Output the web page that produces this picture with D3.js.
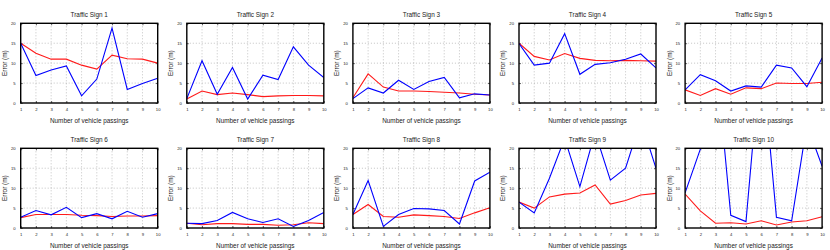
<!DOCTYPE html>
<html>
<head>
<meta charset="utf-8">
<script src="https://cdn.jsdelivr.net/npm/d3@7"></script>
<style>
  body { margin: 0; background: #fff; }
  svg { display: block; font-family: "Liberation Sans", Arial, sans-serif; }
</style>
</head>
<body>
<svg class="chart"></svg>
<script>
const passings = [1, 2, 3, 4, 5, 6, 7, 8, 9, 10];
const yTicks = [0, 5, 10, 15, 20];
const titles = ["Traffic Sign 1", "Traffic Sign 2", "Traffic Sign 3", "Traffic Sign 4", "Traffic Sign 5",
  "Traffic Sign 6", "Traffic Sign 7", "Traffic Sign 8", "Traffic Sign 9", "Traffic Sign 10"];

// blue series (clipped above 20 in signs 9 and 10)
const blueErrors = [
  [15.0, 6.9, 8.3, 9.3, 1.8, 6.0, 18.8, 3.4, 4.9, 6.2],
  [1.1, 10.6, 2.2, 8.9, 1.0, 7.0, 5.9, 14.1, 9.5, 6.4],
  [1.1, 3.8, 2.5, 5.7, 3.4, 5.4, 6.4, 1.3, 2.3, 2.0],
  [14.9, 9.5, 10.0, 17.4, 7.2, 9.7, 10.1, 11.0, 12.3, 8.8],
  [3.3, 7.1, 5.6, 3.0, 4.3, 4.0, 9.5, 8.8, 4.1, 11.3],
  [2.7, 4.4, 3.3, 5.2, 2.6, 3.6, 2.3, 4.2, 2.7, 3.6],
  [1.2, 1.1, 1.9, 3.9, 2.3, 1.4, 2.3, 0.4, 1.9, 3.9],
  [3.4, 11.9, 0.4, 3.4, 4.9, 4.8, 4.4, 1.0, 11.8, 14.0],
  [6.5, 3.8, 12.5, 22.5, 10.4, 24.0, 12.0, 15.0, 27.0, 15.0],
  [8.8, 19.8, 44.0, 3.2, 1.6, 45.0, 2.7, 1.8, 26.0, 15.5]
];

// red series
const redErrors = [
  [15.0, 12.5, 11.0, 11.0, 9.5, 8.5, 12.0, 11.1, 11.0, 10.0],
  [1.0, 3.0, 2.1, 2.5, 2.1, 1.6, 1.8, 1.9, 1.9, 1.8],
  [1.3, 7.3, 4.0, 3.0, 3.0, 2.9, 2.7, 2.5, 2.2, 2.0],
  [15.0, 11.7, 10.8, 12.4, 11.2, 10.7, 10.6, 10.7, 10.6, 10.5],
  [3.3, 1.9, 3.6, 2.2, 3.8, 3.6, 5.0, 4.9, 4.9, 5.2],
  [2.6, 3.4, 3.4, 3.4, 3.2, 3.1, 2.9, 3.0, 3.0, 3.1],
  [1.2, 0.8, 1.1, 1.1, 0.9, 0.9, 0.7, 0.8, 1.3, 1.1],
  [3.4, 5.9, 2.9, 2.7, 3.3, 3.1, 2.9, 2.4, 3.8, 5.1],
  [6.5, 5.0, 7.8, 8.5, 8.8, 10.8, 6.0, 6.9, 8.3, 8.7],
  [8.5, 4.3, 1.2, 1.3, 1.0, 1.8, 0.75, 1.5, 1.8, 2.8]
];

const W = 830, H = 250;
const plotW = 137, plotH = 79.7;
const colStep = 166.1, rowStep = 125;
const left0 = 20.7, top0 = 23.3;

const svg = d3.select(".chart")
  .attr("width", W)
  .attr("height", H);

const x = d3.scaleLinear().domain([1, 10]).range([0, plotW]);
const y = d3.scaleLinear().domain([0, 20]).range([plotH, 0]);

const line = d3.line()
  .x((v, i) => x(passings[i]))
  .y(v => y(v));

titles.forEach((title, k) => {
  const col = k % 5, row = Math.floor(k / 5);
  const g = svg.append("g")
    .attr("transform", `translate(${left0 + col * colStep},${top0 + row * rowStep})`);

  g.append("clipPath").attr("id", "clip" + k)
    .append("rect").attr("width", plotW).attr("height", plotH);

  // dotted grid
  g.selectAll(".gx").data(passings.slice(1, -1)).enter().append("line")
    .attr("x1", d => x(d)).attr("x2", d => x(d))
    .attr("y1", 0).attr("y2", plotH)
    .attr("stroke", "#9a9a9a").attr("stroke-width", 0.6)
    .attr("stroke-dasharray", "1,2");
  g.selectAll(".gy").data(yTicks.slice(1, -1)).enter().append("line")
    .attr("y1", d => y(d)).attr("y2", d => y(d))
    .attr("x1", 0).attr("x2", plotW)
    .attr("stroke", "#9a9a9a").attr("stroke-width", 0.6)
    .attr("stroke-dasharray", "1,2");

  // axes with inward ticks on all four sides
  const axes = [
    [d3.axisBottom(x).tickValues(passings).tickSize(-2).tickPadding(5), `translate(0,${plotH})`, true],
    [d3.axisTop(x).tickValues(passings).tickSize(-2), "", false],
    [d3.axisLeft(y).tickValues(yTicks).tickSize(-2).tickPadding(5), "", true],
    [d3.axisRight(y).tickValues(yTicks).tickSize(-2), `translate(${plotW},0)`, false]
  ];
  axes.forEach(([ax, tr, labels]) => {
    const a = g.append("g").attr("transform", tr).call(ax);
    a.select(".domain").remove();
    a.selectAll("line").attr("stroke", "#000").attr("stroke-width", 0.6);
    a.selectAll("text").attr("font-size", 4.2).attr("fill", "#222")
      .attr("font-family", "Liberation Sans, Arial, sans-serif");
    if (!labels) a.selectAll("text").remove();
  });

  g.append("path")
    .datum(redErrors[k])
    .attr("clip-path", `url(#clip${k})`)
    .attr("d", line)
    .attr("fill", "none")
    .attr("stroke", "#ff1a1a")
    .attr("stroke-width", 1.1);

  g.append("path")
    .datum(blueErrors[k])
    .attr("clip-path", `url(#clip${k})`)
    .attr("d", line)
    .attr("fill", "none")
    .attr("stroke", "#0000ff")
    .attr("stroke-width", 1.1);

  g.append("rect")
    .attr("width", plotW).attr("height", plotH)
    .attr("fill", "none").attr("stroke", "#000").attr("stroke-width", 1.4);

  g.append("text")
    .attr("x", plotW / 2).attr("y", -6.5)
    .attr("text-anchor", "middle")
    .attr("font-size", 6.4).attr("fill", "#222")
    .text(title);

  g.append("text")
    .attr("x", plotW / 2).attr("y", plotH + 19.6)
    .attr("text-anchor", "middle")
    .attr("font-size", 6.4).attr("fill", "#222")
    .text("Number of vehicle passings");

  g.append("text")
    .attr("transform", `translate(-13.6,${plotH / 2}) rotate(-90)`)
    .attr("text-anchor", "middle")
    .attr("font-size", 6.4).attr("fill", "#222")
    .text("Error (m)");
});
</script>
</body>
</html>
